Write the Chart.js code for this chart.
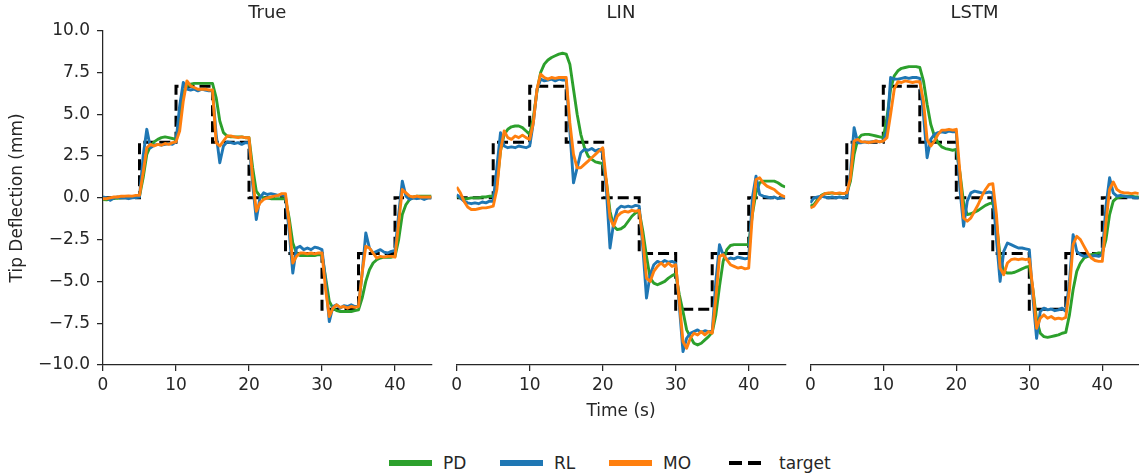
<!DOCTYPE html>
<html>
<head>
<meta charset="utf-8">
<script src="https://cdn.jsdelivr.net/npm/chart.js@4.4.1/dist/chart.umd.min.js"></script>
<style>
  body { margin: 0; background: #fff; width: 1139px; height: 476px; position: relative; overflow: hidden;
         font-family: "DejaVu Sans", sans-serif; color: #262626; }
  .panel { position: absolute; top: 0; height: 425px; }
  .sw { position: absolute; top: 460px; height: 6px; }
  .lt { position: absolute; top: 453px; font-size: 17px; line-height: 20px; white-space: nowrap; }
</style>
</head>
<body>
<div class="panel" style="left:0;width:440px"><canvas id="c1" width="440" height="425"></canvas></div>
<div class="panel" style="left:440px;width:360px"><canvas id="c2" width="360" height="425"></canvas></div>
<div class="panel" style="left:795px;width:344px"><canvas id="c3" width="344" height="425"></canvas></div>

<div class="sw" style="left:389px;width:43px;background:#2ca02c"></div><div class="lt" style="left:443px">PD</div>
<div class="sw" style="left:500px;width:43px;background:#1f77b4"></div><div class="lt" style="left:554px">RL</div>
<div class="sw" style="left:609px;width:43px;background:#ff7f0e"></div><div class="lt" style="left:663px">MO</div>
<div class="sw" style="left:729px;width:32px;top:461px;height:4px;background:repeating-linear-gradient(to right,#000 0 12.7px,transparent 12.7px 19.3px)"></div><div class="lt" style="left:779px">target</div>

<script>
// time axis (s), sampled every 0.5 s
var T = [0,0.5,1,1.5,2,2.5,3,3.5,4,4.5,
         5,5.5,6,6.5,7,7.5,8,8.5,9,9.5,
         10,10.5,11,11.5,12,12.5,13,13.5,14,14.5,
         15,15.5,16,16.5,17,17.5,18,18.5,19,19.5,
         20,20.5,21,21.5,22,22.5,23,23.5,24,24.5,
         25,25.5,26,26.5,27,27.5,28,28.5,29,29.5,
         30,30.5,31,31.5,32,32.5,33,33.5,34,34.5,
         35,35.5,36,36.5,37,37.5,38,38.5,39,39.5,
         40,40.5,41,41.5,42,42.5,43,43.5,44,44.5,
         45];

var targetT = [0,5,10,15,20,25,30,35,40,45];
var targetY = [0,3.33,6.67,3.33,0,-3.33,-6.67,-3.33,0,0];

// True
var truePD = [-0.1,-0.12,-0.08,-0.05,-0.02,0,0.02,0.05,0.05,0.06,
  0.1,1.2,2.6,3.1,3.35,3.5,3.6,3.65,3.6,3.55,
  3.5,4.8,6.3,6.7,6.8,6.85,6.85,6.85,6.85,6.85,
  6.85,6.0,4.6,3.9,3.7,3.65,3.65,3.65,3.65,3.6,
  3.6,1.8,0.4,0.1,0.0,0.0,-0.05,-0.05,-0.05,-0.05,
  -0.05,-1.2,-2.7,-3.3,-3.45,-3.45,-3.45,-3.45,-3.45,-3.4,
  -3.4,-4.8,-6.2,-6.6,-6.75,-6.8,-6.8,-6.8,-6.8,-6.75,
  -6.7,-6.0,-5.0,-4.3,-3.9,-3.7,-3.6,-3.55,-3.55,-3.55,
  -3.5,-2.5,-1.0,-0.4,-0.1,0.05,0.1,0.1,0.1,0.1,
  0.1];
var trueRL = [0.05,0.0,-0.15,0.0,0.05,0.0,0.02,-0.05,0.0,0.02,
  0.05,2.5,4.1,3.0,3.15,3.2,3.15,3.2,3.25,3.2,
  3.35,5.5,6.9,6.5,6.45,6.5,6.4,6.5,6.45,6.4,
  6.4,3.8,2.1,3.1,3.35,3.3,3.25,3.3,3.2,3.3,
  3.3,0.8,-1.3,0.0,0.3,0.2,0.25,0.2,0.15,0.2,
  0.1,-2.0,-4.5,-3.0,-2.9,-3.1,-3.0,-3.1,-2.95,-3.0,
  -3.1,-5.0,-7.4,-6.5,-6.4,-6.6,-6.45,-6.5,-6.4,-6.5,
  -6.5,-4.5,-2.1,-3.0,-3.3,-3.2,-3.1,-3.25,-3.3,-3.2,
  -3.15,-1.0,1.0,0.1,-0.1,0.0,-0.05,0.0,-0.1,0.0,
  0.0];
var trueMO = [-0.05,-0.05,0.0,0.05,0.05,0.1,0.1,0.12,0.1,0.15,
  0.15,1.5,3.0,3.2,3.1,3.2,3.15,3.25,3.2,3.3,
  3.35,4.0,5.8,7.0,6.7,6.6,6.5,6.5,6.5,6.45,
  6.45,3.3,3.1,3.4,3.7,3.7,3.65,3.6,3.65,3.6,
  3.6,1.2,-0.8,-0.3,-0.1,0.0,0.05,0.1,0.15,0.25,
  0.25,-1.5,-3.9,-3.5,-3.3,-3.3,-3.35,-3.3,-3.35,-3.3,
  -3.3,-5.5,-7.1,-6.6,-6.4,-6.55,-6.5,-6.6,-6.5,-6.55,
  -6.5,-4.5,-2.9,-3.0,-3.3,-3.6,-3.5,-3.55,-3.5,-3.5,
  -3.55,-1.5,0.5,0.3,0.1,0.05,0.1,0.05,0.05,0.05,
  0.05];

// LIN
var linPD = [0.1,0.0,-0.05,-0.05,0.0,0.0,0.0,0.05,0.05,0.1,
  0.1,0.8,2.8,3.8,4.1,4.25,4.3,4.3,4.2,4.0,
  3.8,4.8,6.4,7.5,8.0,8.25,8.4,8.5,8.6,8.65,
  8.6,8.0,6.5,5.0,3.8,3.0,2.5,2.3,2.15,2.1,
  2.05,1.0,-0.8,-1.7,-1.9,-1.85,-1.7,-1.4,-1.1,-0.9,
  -0.8,-2.0,-3.5,-4.8,-5.1,-5.2,-5.1,-5.0,-4.8,-4.65,
  -4.55,-5.8,-6.8,-7.9,-8.3,-8.7,-8.8,-8.7,-8.5,-8.3,
  -8.05,-7.0,-5.3,-3.8,-3.1,-2.85,-2.8,-2.8,-2.8,-2.8,
  -2.8,-1.0,0.3,0.9,1.0,1.0,1.0,1.0,0.9,0.75,
  0.65];
var linRL = [0.2,0.0,-0.2,-0.3,-0.35,-0.3,-0.35,-0.25,-0.3,-0.2,
  -0.2,1.8,3.9,3.1,3.0,3.05,3.0,3.1,3.05,3.0,
  3.1,4.5,6.5,7.1,7.0,7.05,7.1,7.0,7.1,7.05,
  7.05,4.0,0.9,1.8,2.7,2.9,2.85,2.95,2.8,2.9,
  2.7,0.5,-3.0,-1.5,-0.7,-0.5,-0.55,-0.5,-0.55,-0.45,
  -0.5,-3.0,-6.0,-4.6,-4.0,-3.8,-3.9,-3.75,-3.85,-3.8,
  -3.9,-6.5,-9.2,-8.4,-8.1,-8.0,-7.9,-8.05,-7.95,-8.0,
  -8.0,-5.0,-2.8,-3.4,-3.7,-3.6,-3.65,-3.55,-3.6,-3.65,
  -3.6,0.0,1.3,0.2,0.1,0.05,0.0,0.05,-0.05,0.0,
  0.05];
var linMO = [0.65,0.3,-0.2,-0.55,-0.7,-0.7,-0.65,-0.6,-0.6,-0.55,
  -0.5,0.5,2.8,4.0,3.6,3.5,3.7,3.6,3.75,3.6,
  3.5,4.5,6.5,7.4,7.2,7.1,7.2,7.15,7.2,7.2,
  7.2,4.5,2.6,1.8,1.8,2.0,2.2,2.4,2.6,2.8,
  3.0,1.0,-1.2,-1.7,-1.1,-0.9,-0.8,-0.85,-0.75,-0.8,
  -0.75,-2.5,-4.8,-5.0,-4.4,-4.1,-3.9,-4.1,-3.9,-4.1,
  -4.0,-6.2,-8.6,-9.0,-8.4,-8.1,-8.2,-8.0,-8.2,-8.0,
  -8.1,-6.0,-3.5,-3.4,-3.7,-4.0,-4.1,-4.2,-4.15,-4.25,
  -4.2,-1.0,1.1,1.2,0.9,0.7,0.6,0.5,0.3,0.15,
  0.05];

// LSTM
var lstmPD = [-0.5,-0.4,-0.1,0.15,0.25,0.25,0.3,0.25,0.25,0.25,
  0.25,1.0,2.6,3.5,3.75,3.8,3.8,3.75,3.7,3.65,
  3.6,4.8,6.5,7.3,7.6,7.75,7.8,7.85,7.85,7.85,
  7.8,7.0,5.6,4.4,3.7,3.3,3.05,2.95,2.9,2.85,
  2.9,1.5,-0.3,-1.0,-0.95,-0.85,-0.75,-0.6,-0.45,-0.35,
  -0.3,-1.5,-3.5,-4.4,-4.5,-4.5,-4.45,-4.35,-4.25,-4.15,
  -4.1,-5.5,-7.3,-8.1,-8.3,-8.35,-8.3,-8.25,-8.2,-8.1,
  -8.05,-7.0,-5.5,-4.4,-3.9,-3.6,-3.5,-3.4,-3.35,-3.3,
  -3.3,-2.5,-1.0,-0.2,0.0,0.05,0.1,0.1,0.1,0.05,
  0.05];
var lstmRL = [-0.3,0.0,0.05,0.1,0.05,0.0,0.05,0.0,0.05,0.0,
  0.05,1.5,4.2,3.3,3.3,3.35,3.3,3.35,3.4,3.35,
  3.4,4.0,7.2,7.1,7.1,7.15,7.2,7.15,7.2,7.2,
  7.15,5.0,2.4,3.5,3.8,3.9,3.95,3.9,4.0,3.95,
  3.95,0.5,-1.7,-0.2,0.3,0.4,0.35,0.3,0.3,0.35,
  0.3,-2.5,-5.0,-3.2,-2.7,-2.8,-2.9,-3.0,-3.0,-3.05,
  -3.1,-6.0,-8.4,-6.8,-6.6,-6.7,-6.65,-6.75,-6.7,-6.6,
  -6.8,-5.0,-2.2,-3.2,-3.4,-3.5,-3.45,-3.5,-3.45,-3.5,
  -3.4,-0.5,1.2,0.3,0.1,0.15,0.1,0.05,0.05,0.0,
  0.0];
var lstmMO = [-0.6,-0.5,-0.2,0.1,0.25,0.3,0.3,0.25,0.3,0.25,
  0.3,1.2,3.4,3.5,3.35,3.35,3.3,3.35,3.4,3.35,
  3.4,3.6,5.0,6.5,6.95,6.9,7.0,6.95,6.9,6.95,
  6.95,5.8,3.5,3.1,3.4,3.8,4.05,4.05,4.1,4.05,
  4.1,1.5,-1.2,-1.4,-1.2,-0.8,-0.4,0.1,0.5,0.8,
  0.85,-1.0,-4.2,-4.6,-3.9,-3.7,-3.65,-3.7,-3.65,-3.7,
  -3.65,-5.5,-7.8,-7.2,-7.0,-7.2,-7.1,-7.25,-7.2,-7.25,
  -7.15,-5.5,-2.8,-2.3,-2.5,-2.9,-3.3,-3.6,-3.75,-3.8,
  -3.8,-1.5,0.5,0.95,0.5,0.35,0.3,0.3,0.25,0.3,
  0.25];

var xTicks = [0, 10, 20, 30, 40];
var xTickLabels = ['0', '10', '20', '30', '40'];
var yTicks = [-10, -7.5, -5, -2.5, 0, 2.5, 5, 7.5, 10];
var yTickLabels = ['\u221210.0', '\u22127.5', '\u22125.0', '\u22122.5', '0.0', '2.5', '5.0', '7.5', '10.0'];

var ink = '#262626';
var font = { family: 'DejaVu Sans', size: 17 };

function pts(xs, ys) {
  return xs.map(function (x, i) { return { x: x, y: ys[i] }; });
}

function makePanel(id, title, pd, rl, mo, first, xtitle, pad) {
  var line = function (label, vals, color) {
    return { label: label, data: pts(T, vals), borderColor: color, borderWidth: 2.9,
             pointRadius: 0, tension: 0, fill: false, borderJoinStyle: 'round' };
  };
  return new Chart(document.getElementById(id), {
    type: 'line',
    data: {
      datasets: [
        line('MO', mo, '#ff7f0e'),
        line('RL', rl, '#1f77b4'),
        line('PD', pd, '#2ca02c'),
        { label: 'target', data: pts(targetT, targetY), borderColor: '#000', borderWidth: 3,
          borderDash: [11, 5], stepped: true, pointRadius: 0, fill: false }
      ]
    },
    options: {
      responsive: false,
      animation: false,
      devicePixelRatio: 1,
      layout: { padding: pad },
      scales: {
        x: {
          type: 'linear', min: 0, max: 45,
          afterBuildTicks: function (s) { s.ticks = xTicks.map(function (v) { return { value: v }; }); },
          afterFit: function (s) { s.height = 60; },
          grid: { drawOnChartArea: false, drawTicks: true, tickLength: 6, color: ink, lineWidth: 1.25 },
          border: { display: true, color: ink, width: 1.25 },
          ticks: { color: ink, font: font, padding: 4, maxRotation: 0, autoSkip: false,
                   callback: function (v, i) { return xTickLabels[i]; } },
          title: { display: xtitle, text: 'Time (s)', color: ink, font: font, padding: { top: 0, bottom: 3.5 } }
        },
        y: {
          type: 'linear', min: -10, max: 10, display: first,
          afterBuildTicks: function (s) { s.ticks = yTicks.map(function (v) { return { value: v }; }); },
          afterFit: function (s) { s.width = first ? 103 : 0; },
          grid: { drawOnChartArea: false, drawTicks: true, tickLength: 6, color: ink, lineWidth: 1.25 },
          border: { display: true, color: ink, width: 1.25 },
          ticks: { color: ink, font: font, padding: 7,
                   callback: function (v, i) { return yTickLabels[i]; } },
          title: { display: first, text: 'Tip Deflection (mm)', color: ink, font: font, padding: { top: 7.8, bottom: 0 } }
        }
      },
      plugins: {
        legend: { display: false },
        tooltip: { enabled: false },
        title: { display: true, text: title, fullSize: false, color: ink,
                 font: { family: 'DejaVu Sans', size: 18, weight: 'normal' },
                 padding: { top: 2.9, bottom: 6.2 } }
      }
    }
  });
}

makePanel('c1', 'True', truePD, trueRL, trueMO, true, false, { left: 0, right: 8.5, top: 0, bottom: 0 });
makePanel('c2', 'LIN', linPD, linRL, linMO, false, true, { left: 16.7, right: 14.8, top: 0, bottom: 0 });
makePanel('c3', 'LSTM', lstmPD, lstmRL, lstmMO, false, false, { left: 15.3, right: 0.2, top: 0, bottom: 0 });
</script>
</body>
</html>
